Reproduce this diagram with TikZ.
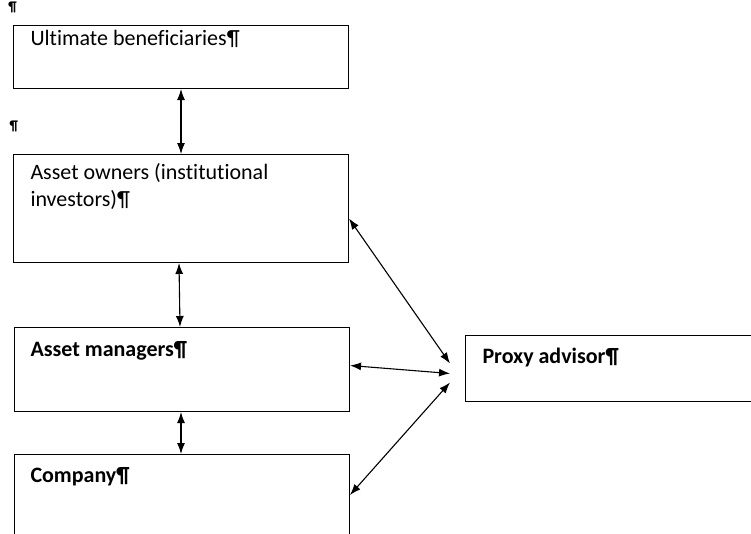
\documentclass[tikz,border=0pt]{standalone}
\usepackage{fontspec}
\setmainfont{Carlito}[Ligatures=NoCommon]
\usetikzlibrary{arrows.meta}
\begin{document}
\begin{tikzpicture}[x=1pt,y=-1pt,
  line width=1pt,
  box/.style={draw,anchor=north west,inner sep=0pt,minimum width=335pt},
  txt/.style={anchor=base west,inner sep=0pt,align=left,
    font=\fontsize{22}{27}\selectfont},
  pil/.style={anchor=north west,inner sep=0pt,font=\bfseries\fontsize{14}{14}\selectfont},
  link/.style={line width=1.1pt,{Latex[length=11pt,width=8pt]}-{Latex[length=11pt,width=8pt]}}]

  \useasboundingbox (0,0) rectangle (751,533);

  \node[pil] (p1) at (8,1) {¶};
  \node[pil] (p2) at (9,120) {¶};

  \node[box,minimum height=63pt] (1) at (13,25) {};
  \node[box,minimum height=108pt] (2) at (13,154) {};
  \node[box,minimum height=84pt] (3) at (14,327) {};
  \node[box,minimum height=95pt] (4) at (14,454) {};
  \node[box,minimum height=66pt,minimum width=300pt] (5) at (465,335) {};

  \node[txt] (t1) at (30,45) {Ultimate beneficiaries¶};
  \node[txt] (t2) at (30,206) {Asset owners (institutional\\investors)¶};
  \node[txt] (t3) at (30,356) {\bfseries Asset managers¶};
  \node[txt] (t4) at (30,482) {\bfseries Company¶};
  \node[txt] (t5) at (482,363) {\bfseries Proxy advisor¶};

  \draw[link] (1.south) -- (2.north);
  \draw[link] ([xshift=-2pt]2.south) -- ([xshift=-2pt]3.north);
  \draw[link] ([xshift=-1pt]3.south) -- ([xshift=-1pt]4.north);
  \draw[link] ([yshift=-10pt]2.east) -- ([shift={(-15pt,5pt)}]5.west);
  \draw[link] ([yshift=4pt]3.east) -- ([shift={(-15pt,-5pt)}]5.west);
  \draw[link] ([yshift=-41pt]4.north east) -- ([shift={(-15pt,-14pt)}]5.west);
\end{tikzpicture}
\end{document}
